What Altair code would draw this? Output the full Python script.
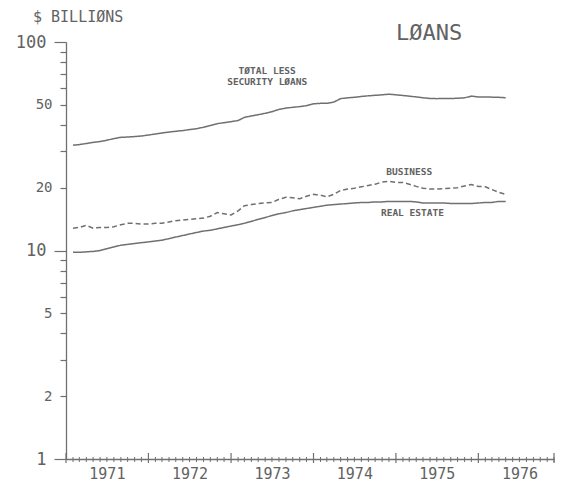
import altair as alt
import pandas as pd

# ---- data (monthly, Feb 1971 - May 1976) ----
months = pd.date_range("1971-02-01", periods=64, freq="MS")
total_less_security = [
    32.0, 32.2, 32.6, 33.0, 33.3, 33.8, 34.4, 34.9, 35.0, 35.2, 35.4, 35.8,
    36.2, 36.6, 37.0, 37.3, 37.6, 38.0, 38.4, 39.0, 39.8, 40.6, 41.0, 41.5,
    42.0, 43.5, 44.2, 44.8, 45.5, 46.3, 47.5, 48.2, 48.6, 49.0, 49.5, 50.5,
    50.8, 50.8, 51.5, 53.5, 54.0, 54.3, 54.8, 55.2, 55.5, 55.8, 56.2, 55.8,
    55.4, 55.0, 54.5, 54.0, 53.6, 53.5, 53.6, 53.6, 53.7, 54.0, 55.0, 54.5,
    54.5, 54.4, 54.3, 54.0,
]
business = [
    12.8, 12.9, 13.2, 12.8, 12.9, 12.9, 13.0, 13.3, 13.5, 13.5, 13.4, 13.4,
    13.5, 13.5, 13.7, 13.9, 14.0, 14.1, 14.2, 14.3, 14.6, 15.2, 15.0, 14.8,
    15.5, 16.4, 16.6, 16.8, 16.9, 17.0, 17.6, 18.0, 17.9, 17.7, 18.2, 18.6,
    18.4, 18.1, 18.6, 19.4, 19.7, 19.9, 20.2, 20.5, 20.8, 21.3, 21.5, 21.2,
    21.2, 20.8, 20.3, 19.9, 19.7, 19.7, 19.8, 19.9, 20.0, 20.4, 20.7, 20.3,
    20.2, 19.6, 19.0, 18.6,
]
real_estate = [
    9.8, 9.8, 9.85, 9.9, 10.0, 10.2, 10.4, 10.6, 10.7, 10.8, 10.9, 11.0,
    11.1, 11.2, 11.4, 11.6, 11.8, 12.0, 12.2, 12.4, 12.5, 12.7, 12.9, 13.1,
    13.3, 13.5, 13.8, 14.1, 14.4, 14.7, 15.0, 15.2, 15.5, 15.7, 15.9, 16.1,
    16.3, 16.5, 16.6, 16.7, 16.8, 16.9, 17.0, 17.0, 17.1, 17.1, 17.2, 17.2,
    17.2, 17.2, 17.1, 16.9, 16.9, 16.9, 16.9, 16.8, 16.8, 16.8, 16.8, 16.9,
    17.0, 17.0, 17.2, 17.2,
]
series_names = ["Total", "Business", "Real estate"]
years = [1971, 1972, 1973, 1974, 1975, 1976]
y_ticks = [1, 2, 3, 4, 5, 6, 7, 8, 9, 10, 20, 30, 40, 50, 60, 70, 80, 90, 100]
y_labels = [1, 2, 5, 10, 20, 50, 100]

labels_text = ["TØTAL LESS", "SECURITY LØANS", "BUSINESS", "REAL ESTATE"]
labels_date = ["1973-06-10", "1973-06-10", "1975-03-01", "1975-03-15"]
labels_value = [72.5, 64.0, 23.7, 15.2]

GRAY = "#707070"
TXT = "#626262"
MONO = "DejaVu Sans Mono"
W, H = 488, 417

df = pd.DataFrame({"date": months, "Total": total_less_security,
                   "Business": business, "Real estate": real_estate})
long = df.melt("date", var_name="series", value_name="value")

xscale = alt.Scale(domain=[alt.DateTime(year=1971, month=1, date=1),
                           alt.DateTime(year=1976, month=12, date=1)])
yscale = alt.Scale(type="log", domain=[1, 100])

label_list = ",".join(str(v) for v in y_labels)
y_axis = alt.Axis(
    values=y_ticks, title=None, grid=False,
    labelExpr=f"indexof([{label_list}], datum.value) >= 0 ? datum.value + '' : ''",
    tickSize={"condition": {"test": "datum.value == 1 || datum.value == 10 || datum.value == 100", "value": 12}, "value": 6},
    labelFontSize={"condition": {"test": "datum.value == 1 || datum.value == 10 || datum.value == 100", "value": 17}, "value": 14},
    labelFont=MONO, labelColor=TXT, labelPadding=8,
    domainColor=GRAY, tickColor=GRAY, domainWidth=1.3, tickWidth=1.2,
)
x_axis = alt.Axis(
    values=[alt.DateTime(year=y, month=7, date=1) for y in years],
    format="%Y", ticks=False, title=None, grid=False,
    labelFont=MONO, labelFontSize=15, labelColor=TXT, labelPadding=7,
    domainColor=GRAY, domainWidth=1.3,
)

lines = alt.Chart(long).mark_line(color=GRAY, strokeWidth=1.5).encode(
    x=alt.X("date:T", scale=xscale, axis=x_axis),
    y=alt.Y("value:Q", scale=yscale, axis=y_axis),
    detail="series:N",
    strokeDash=alt.StrokeDash("series:N", legend=None,
                              scale=alt.Scale(domain=series_names,
                                              range=[[1, 0], [5, 3], [1, 0]])),
)

tick_df = pd.DataFrame({"date": pd.date_range("1971-01-01", "1976-12-01", freq="MS")})
tick_df["is_year"] = tick_df["date"].dt.month == 1
month_ticks = alt.Chart(tick_df[~tick_df["is_year"]]).mark_rule(color=GRAY, strokeWidth=1).encode(
    x=alt.X("date:T", scale=xscale), y=alt.value(H - 2), y2=alt.value(H + 3))
year_ticks = alt.Chart(pd.concat([tick_df[tick_df["is_year"]],
                                  tick_df.tail(1)])).mark_rule(color=GRAY, strokeWidth=1.2).encode(
    x=alt.X("date:T", scale=xscale), y=alt.value(H - 6), y2=alt.value(H + 4))

ann = pd.DataFrame({"text": labels_text, "date": pd.to_datetime(labels_date),
                    "value": labels_value})
annotations = alt.Chart(ann).mark_text(font=MONO, fontSize=9.5, fontWeight="bold",
                                       color=TXT, align="center", baseline="middle").encode(
    x=alt.X("date:T", scale=xscale), y=alt.Y("value:Q", scale=yscale), text="text:N")

unit_title = alt.Chart(pd.DataFrame({"t": ["$ BILLIØNS"]})).mark_text(
    font=MONO, fontSize=15, color=TXT, align="left", baseline="alphabetic").encode(
    x=alt.value(-33), y=alt.value(-20), text="t:N")
main_title = alt.Chart(pd.DataFrame({"t": ["LØANS"]})).mark_text(
    font=MONO, fontSize=22, color=TXT, align="left", baseline="alphabetic").encode(
    x=alt.value(330), y=alt.value(-2), text="t:N")

chart = alt.layer(lines, month_ticks, year_ticks, annotations, unit_title, main_title).properties(
    width=W, height=H, autosize="none",
    padding={"left": 58, "top": 34, "right": 5, "bottom": 22},
).configure(background="white").configure_view(stroke=None)

chart.save("out.html", embed_options={"renderer": "svg", "actions": False})
